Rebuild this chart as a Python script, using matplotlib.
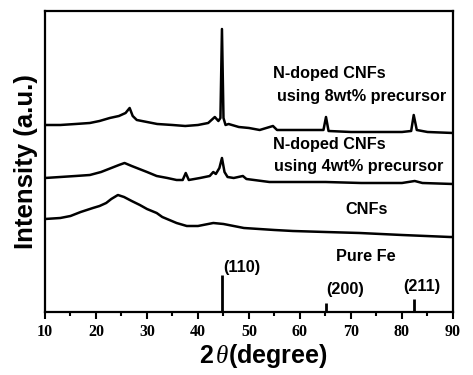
import numpy as np
import matplotlib
matplotlib.use('Agg')
import matplotlib.pyplot as plt
from matplotlib.ticker import MultipleLocator

plt.rcParams['mathtext.fontset'] = 'custom'
plt.rcParams['mathtext.rm'] = 'Liberation Sans:bold'
plt.rcParams['mathtext.it'] = 'Liberation Serif:italic'

# XRD traces (2theta, intensity in a.u.), offset stacked as in the figure
cnf_2t = [10, 13, 15, 17, 19.4, 20.7, 22, 23, 24.3, 25.5, 27, 28.6, 30, 31.9, 33,
          35.8, 37.8, 40, 43, 45, 47, 49, 52, 55, 58.6, 65, 71.7, 80, 89.4, 90]
cnf_int = [93, 94, 96, 100, 104, 106, 109, 113, 117, 115, 111, 107, 103, 99, 95,
           89, 86, 86, 89, 88, 86, 84, 83, 82, 81, 80, 79, 77, 75, 75]

n4_2t = [10, 13, 16, 18.8, 21, 23, 24.5, 25.6, 27, 28.5, 30, 31.9, 34, 35.8, 37,
         37.6, 38.2, 40.4, 42.3, 43, 43.5, 44.2, 44.7, 45.2, 45.8, 47, 48.8,
         49.5, 51, 54, 58.6, 65, 72, 80, 82.5, 84, 90]
n4_int = [134, 135, 136, 137, 140, 144, 147, 149, 146, 143, 140, 136, 134, 132, 132,
          139, 132, 134, 136, 140, 138, 144, 154, 140, 135, 134, 136,
          133, 132, 130, 130, 130, 129, 129, 131, 129, 128]

n8_2t = [10, 13, 16, 18.8, 20.7, 22.7, 24.5, 25.8, 26.6, 27.2, 28, 30, 32, 35,
         37.5, 40, 42, 43.3, 44, 44.4, 44.7, 45.0, 45.4, 46, 48, 50, 52.1, 54.7,
         55.5, 60, 64.6, 65.1, 65.6, 70, 75, 80, 81.8, 82.3, 82.9, 85, 90]
n8_int = [187, 187, 188, 189, 191, 194, 196, 199, 204, 196, 192, 190, 188, 187,
          186, 187, 189, 195, 191, 194, 283, 194, 187, 188, 185, 184, 182, 186,
          182, 182, 182, 195, 181, 180, 180, 180, 181, 197, 182, 180, 179]

# Pure Fe reference sticks
fe_2t = [44.67, 65.02, 82.33]
fe_int = [37, 9, 13]
fe_hkl = ['(110)', '(200)', '(211)']

fig = plt.figure(figsize=(4.73, 3.75), dpi=100)
ax = fig.add_axes([0.0951, 0.168, 0.8626, 0.8027])

for xs, ys in [(cnf_2t, cnf_int), (n4_2t, n4_int), (n8_2t, n8_int)]:
    ax.plot(xs, ys, color='black', lw=1.8)

ax.vlines(fe_2t, 0, fe_int, color='black', lw=2)

lab = dict(fontsize=11.7, fontweight='bold', family='Liberation Sans', va='center')
ax.text(54.7, 238, 'N-doped CNFs', ha='left', **lab)
ax.text(55.5, 215, 'using 8wt% precursor', ha='left', **lab)
ax.text(54.7, 167, 'N-doped CNFs', ha='left', **lab)
ax.text(55.0, 145, 'using 4wt% precursor', ha='left', **lab)
ax.text(73.0, 102, 'CNFs', ha='center', **lab)
ax.text(72.9, 55, 'Pure Fe', ha='center', **lab)
for x, h, s, dx, dy in zip(fe_2t, fe_int, fe_hkl, [0.2, 0.1, -2.0], [7, 13, 12]):
    ax.text(x + dx, h + dy, s, ha='left', **lab)

ax.set_xlim(10, 90)
ax.set_ylim(0, 301)
ax.set_yticks([])
ax.set_xticks(range(10, 91, 10))
ax.set_xticklabels([str(v) for v in range(10, 91, 10)], fontfamily='Liberation Serif',
                   fontweight='bold', fontsize=11.5)
ax.xaxis.set_minor_locator(MultipleLocator(5))
ax.tick_params(axis='x', which='major', direction='out', length=5, width=1.5,
               pad=4)
ax.tick_params(axis='x', which='minor', direction='out', length=3, width=1.5)
for sp in ax.spines.values():
    sp.set_linewidth(1.6)

ax.set_xlabel(r'$\mathrm{2}\,\mathit{\theta}\mathrm{(degree)}$', fontsize=18,
              labelpad=1)
ax.xaxis.label.set_x(0.535)
ax.set_ylabel('Intensity (a.u.)', fontsize=18.5, fontweight='bold',
              family='Liberation Sans', labelpad=5)

fig.savefig('out.png', dpi=100)
